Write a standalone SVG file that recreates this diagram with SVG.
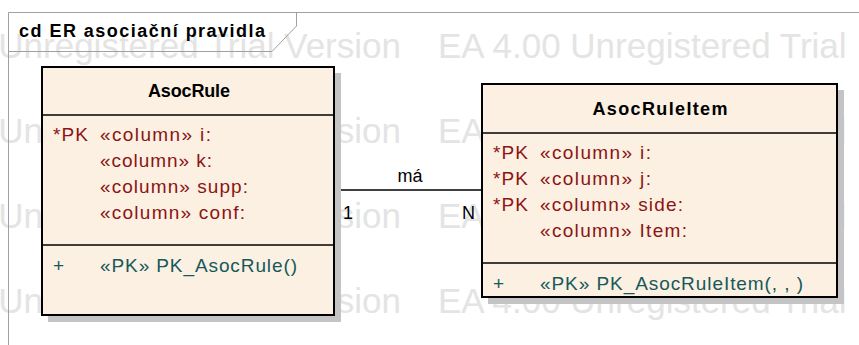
<svg xmlns="http://www.w3.org/2000/svg" width="859" height="345" viewBox="0 0 859 345">
<style>
.wm{font-family:"Liberation Sans",Arial,sans-serif;font-size:35px;fill:#e4e4e4}
.frame{fill:none;stroke:#a0a0a0;stroke-width:1}
.title{font-family:"Liberation Sans",Arial,sans-serif;font-size:18px;font-weight:bold;fill:#000}
.box{fill:#fbf0e2;stroke:#000;stroke-width:2}
.shadow{fill:#c4c4c4;stroke:none}
.sep{stroke:#000;stroke-width:1.6}
.hdr{font-family:"Liberation Sans",Arial,sans-serif;font-size:18px;font-weight:bold;fill:#000;text-anchor:middle}
.attr{font-family:"Liberation Sans",Arial,sans-serif;font-size:19px;fill:#8c1414}
.op{font-family:"Liberation Sans",Arial,sans-serif;font-size:19px;fill:#15595a}
.conn{stroke:#000;stroke-width:1.6;fill:none}
.lbl{font-family:"Liberation Sans",Arial,sans-serif;font-size:18px;fill:#000}
</style>
<rect width="859" height="345" fill="#fff"/>
<g id="watermark">
<text class="wm" x="401" y="58" text-anchor="end">Unregistered Trial Version</text>
<text class="wm" x="438" y="58">EA 4.00 Unregistered Trial</text>
<text class="wm" x="401" y="143" text-anchor="end">Unregistered Trial Version</text>
<text class="wm" x="438" y="143">EA 4.00 Unregistered Trial</text>
<text class="wm" x="401" y="228" text-anchor="end">Unregistered Trial Version</text>
<text class="wm" x="438" y="228">EA 4.00 Unregistered Trial</text>
<text class="wm" x="401" y="313" text-anchor="end">Unregistered Trial Version</text>
<text class="wm" x="438" y="313">EA 4.00 Unregistered Trial</text>
</g>
<g id="frame">
<path class="frame" d="M8.5,345 V12.5 H859"/>
<path class="frame" d="M8.5,51.5 H272 L296.5,26 V12.5"/>
<text class="title" x="19" y="37" textLength="246" lengthAdjust="spacing">cd ER asociační pravidla</text>
</g>
<g id="connectors">
<line class="conn" x1="335" y1="190" x2="482" y2="190"/>
<text class="lbl" x="410" y="182" text-anchor="middle">má</text>
<text class="lbl" x="343" y="219">1</text>
<text class="lbl" x="462" y="219">N</text>
</g>
<g id="AsocRule">
<rect class="shadow" x="48" y="73" width="293" height="249"/>
<rect class="box" x="42" y="67" width="292" height="248"/>
<line class="sep" x1="42" y1="115" x2="334" y2="115"/>
<line class="sep" x1="42" y1="245" x2="334" y2="245"/>
<text class="hdr" x="189" y="97" textLength="82" lengthAdjust="spacing">AsocRule</text>
<text class="attr" x="53" y="141" textLength="35" lengthAdjust="spacing">*PK</text>
<text class="attr" x="100" y="141" textLength="111" lengthAdjust="spacing">«column» i:</text>
<text class="attr" x="100" y="167" textLength="112" lengthAdjust="spacing">«column» k:</text>
<text class="attr" x="100" y="193" textLength="148" lengthAdjust="spacing">«column» supp:</text>
<text class="attr" x="100" y="219" textLength="145" lengthAdjust="spacing">«column» conf:</text>
<text class="op" x="53" y="272">+</text>
<text class="op" x="100" y="272" textLength="197" lengthAdjust="spacing">«PK» PK_AsocRule()</text>
</g>
<g id="AsocRuleItem">
<rect class="shadow" x="488" y="90" width="356" height="214"/>
<rect class="box" x="482" y="84" width="355" height="213"/>
<line class="sep" x1="482" y1="133" x2="837" y2="133"/>
<line class="sep" x1="482" y1="263" x2="837" y2="263"/>
<text class="hdr" x="660" y="115" textLength="135" lengthAdjust="spacing">AsocRuleItem</text>
<text class="attr" x="493" y="159" textLength="35" lengthAdjust="spacing">*PK</text>
<text class="attr" x="540" y="159" textLength="111" lengthAdjust="spacing">«column» i:</text>
<text class="attr" x="493" y="185" textLength="35" lengthAdjust="spacing">*PK</text>
<text class="attr" x="540" y="185" textLength="111" lengthAdjust="spacing">«column» j:</text>
<text class="attr" x="493" y="211" textLength="35" lengthAdjust="spacing">*PK</text>
<text class="attr" x="540" y="211" textLength="143" lengthAdjust="spacing">«column» side:</text>
<text class="attr" x="540" y="237" textLength="147" lengthAdjust="spacing">«column» Item:</text>
<text class="op" x="493" y="290">+</text>
<text class="op" x="540" y="290" textLength="263" lengthAdjust="spacing">«PK» PK_AsocRuleItem(, , )</text>
</g>
</svg>
